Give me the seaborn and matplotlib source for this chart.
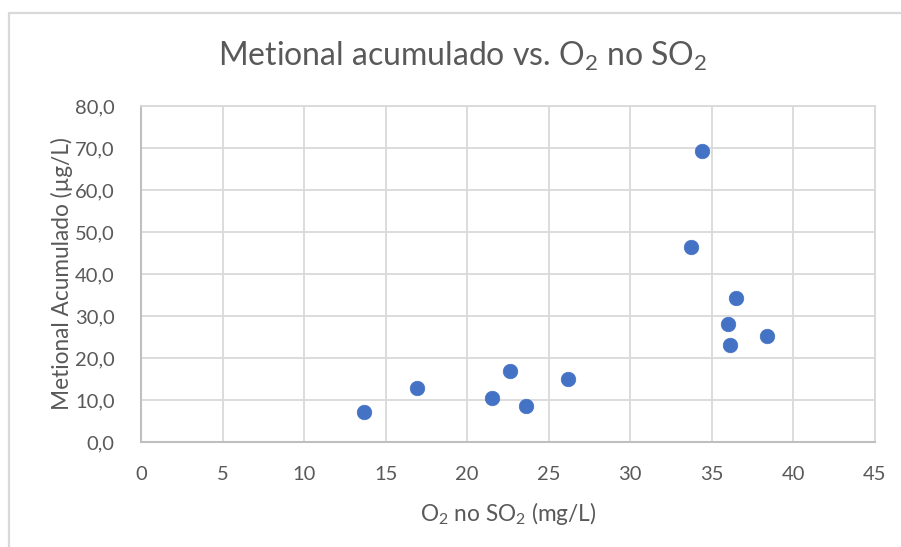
"""Scatter of accumulated methional against O2 consumed (Excel-style look)."""

import matplotlib

matplotlib.use("Agg")
import matplotlib.pyplot as plt
import pandas as pd
import seaborn as sns
from matplotlib.lines import Line2D
from matplotlib.ticker import FuncFormatter, MultipleLocator

# values
o2_no_so2 = [13.7, 16.9, 21.5, 22.6, 23.6, 26.2, 33.7, 34.4, 36.0, 36.1, 36.5, 38.4]
metional = [7.1, 12.8, 10.5, 16.9, 8.5, 15.1, 46.4, 69.4, 28.2, 23.0, 34.2, 25.3]

TEXT = "#595959"
GRID = "#d9d9d9"
AXIS = "#bfbfbf"
BLUE = "#4472C4"

sns.set_theme(style="white")
plt.rcParams["font.family"] = ["Lato", "DejaVu Sans"]
plt.rcParams["mathtext.default"] = "regular"

df = pd.DataFrame({"o2": o2_no_so2, "metional": metional})

fig = plt.figure(figsize=(9.01, 5.47), dpi=100)
ax = fig.add_axes([141 / 901, 105 / 547, 734 / 901, 336 / 547])

sns.scatterplot(data=df, x="o2", y="metional", ax=ax, s=110, color=BLUE,
                edgecolor=BLUE, linewidth=0.5, zorder=3, clip_on=False)

ax.set_xlim(0, 45)
ax.set_ylim(0, 80)
ax.xaxis.set_major_locator(MultipleLocator(5))
ax.yaxis.set_major_locator(MultipleLocator(10))
ax.yaxis.set_major_formatter(FuncFormatter(lambda v, _: f"{v:.1f}".replace(".", ",")))
ax.grid(True, color=GRID, linewidth=1.3)
ax.set_axisbelow(True)

for side in ["top", "right"]:
    ax.spines[side].set_color(GRID)
    ax.spines[side].set_linewidth(1.3)
for side in ["left", "bottom"]:
    ax.spines[side].set_color(AXIS)
    ax.spines[side].set_linewidth(1.5)

ax.tick_params(axis="both", length=0, labelsize=14.5, labelcolor=TEXT)
ax.tick_params(axis="y", pad=19)
ax.tick_params(axis="x", pad=17)

ax.set_xlabel("O$_2$ no SO$_2$ (mg/L)", fontsize=16.3, color=TEXT)
ax.set_ylabel("Metional Acumulado (µg/L)", fontsize=16.3, color=TEXT)
ax.xaxis.set_label_coords(0.5, -0.172)
ax.yaxis.set_label_coords(-0.093, 0.5)
fig.text(463 / 901, 1 - 56 / 547, "Metional acumulado vs. O$_2$ no SO$_2$",
         ha="center", va="center", fontsize=23, color=TEXT)

# chart-area border (only top and left are visible in the crop)
fig.add_artist(Line2D([9 / 901, 9 / 901, 1.0], [0.0, 1 - 13 / 547, 1 - 13 / 547],
                      transform=fig.transFigure, color=GRID, linewidth=1.6))

fig.savefig("out.png", dpi=100, facecolor="white")
